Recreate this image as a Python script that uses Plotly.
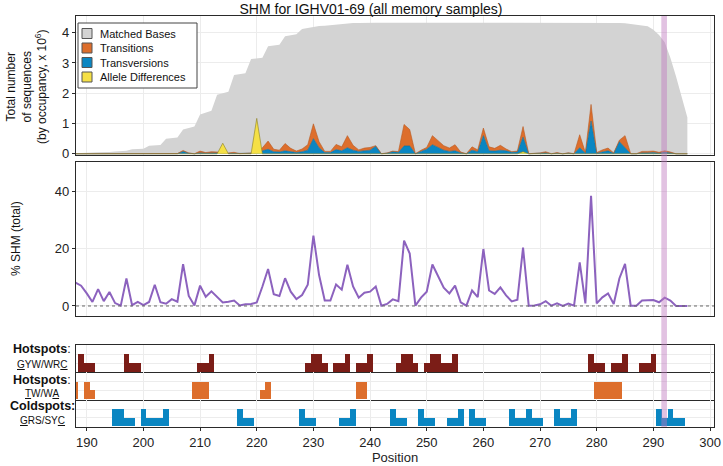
import plotly.graph_objects as go
from plotly.subplots import make_subplots

# ---------------- data ----------------
positions = list(range(188, 297))

matched_bases = [
    0.02, 0.02, 0.03, 0.04, 0.05, 0.05, 0.06, 0.08, 0.09, 0.10,   # 188-197
    0.15, 0.16, 0.17, 0.27, 0.28, 0.29, 0.50, 0.52, 0.54, 0.80,   # 198-207
    0.85, 0.90, 1.30, 1.36, 1.42, 1.95, 2.00, 2.05, 2.60, 2.63,   # 208-217
    2.66, 3.13, 3.15, 3.17, 3.55, 3.58, 3.60, 3.88, 3.92, 3.95,   # 218-227
    4.12, 4.15, 4.20, 4.22, 4.23, 4.25, 4.27, 4.29, 4.31, 4.32,   # 228-237
    4.32, 4.33, 4.33, 4.33, 4.33, 4.33, 4.34, 4.34, 4.34, 4.34,   # 238-247
    4.34, 4.34, 4.34, 4.34, 4.34, 4.34, 4.34, 4.34, 4.34, 4.34,   # 248-257
    4.34, 4.34, 4.34, 4.34, 4.34, 4.34, 4.34, 4.34, 4.34, 4.34,   # 258-267
    4.34, 4.34, 4.34, 4.33, 4.33, 4.33, 4.33, 4.33, 4.33, 4.33,   # 268-277
    4.33, 4.33, 4.33, 4.33, 4.33, 4.33, 4.32, 4.31, 4.29, 4.27,   # 278-287
    4.25, 4.21, 4.10, 3.92, 3.68, 3.17, 2.55, 1.90, 1.20          # 288-296
]

transversions = [
    0.0, 0.0, 0.0, 0.0, 0.002, 0.001, 0.002, 0.0, 0.0, 0.006,     # 188-197
    0.001, 0.001, 0.001, 0.002, 0.012, 0.002, 0.002, 0.006, 0.004, 0.08,  # 198-207
    0.02, 0.001, 0.03, 0.02, 0.03, 0.03, 0.01, 0.015, 0.02, 0.003,  # 208-217
    0.008, 0.01, 0.02, 0.10, 0.15, 0.07, 0.06, 0.10, 0.08, 0.04,  # 218-227
    0.07, 0.12, 0.50, 0.20, 0.04, 0.04, 0.14, 0.10, 0.20, 0.12,   # 228-237
    0.08, 0.10, 0.12, 0.25, 0.002, 0.02, 0.07, 0.05, 0.26, 0.26,  # 238-247
    0.002, 0.08, 0.15, 0.30, 0.20, 0.12, 0.08, 0.10, 0.03, 0.002, # 248-257
    0.12, 0.07, 0.60, 0.10, 0.09, 0.12, 0.10, 0.05, 0.06, 0.55,   # 258-267
    0.002, 0.005, 0.015, 0.03, 0.002, 0.02, 0.0, 0.02, 0.002, 0.20,  # 268-277
    0.02, 1.08, 0.02, 0.05, 0.10, 0.015, 0.40, 0.20, 0.002, 0.002,   # 278-287
    0.03, 0.03, 0.04, 0.02, 0.05, 0.03, 0.0, 0.0, 0.0              # 288-296
]

transitions = [
    0.0, 0.0, 0.0, 0.0, 0.001, 0.0, 0.001, 0.001, 0.0, 0.004,     # 188-197
    0.0, 0.001, 0.0, 0.002, 0.008, 0.002, 0.002, 0.006, 0.004, 0.03,  # 198-207
    0.01, 0.001, 0.06, 0.02, 0.04, 0.03, 0.01, 0.015, 0.03, 0.002,  # 208-217
    0.007, 0.01, 0.02, 0.10, 0.27, 0.08, 0.06, 0.24, 0.10, 0.05,  # 218-227
    0.09, 0.18, 0.49, 0.20, 0.04, 0.04, 0.17, 0.13, 0.40, 0.16,   # 228-237
    0.05, 0.09, 0.09, 0.02, 0.002, 0.01, 0.02, 0.02, 0.71, 0.54,  # 238-247
    0.002, 0.04, 0.06, 0.30, 0.25, 0.15, 0.11, 0.20, 0.03, 0.002, # 248-257
    0.11, 0.06, 0.25, 0.13, 0.09, 0.16, 0.06, 0.02, 0.03, 0.35,   # 258-267
    0.002, 0.005, 0.015, 0.04, 0.002, 0.02, 0.0, 0.015, 0.002, 0.43,  # 268-277
    0.02, 0.55, 0.02, 0.08, 0.09, 0.015, 0.05, 0.40, 0.002, 0.002,   # 278-287
    0.05, 0.05, 0.05, 0.03, 0.05, 0.03, 0.0, 0.0, 0.0              # 288-296
]

allele_differences = [
    0, 0, 0, 0, 0, 0, 0, 0, 0, 0,          # 188-197
    0, 0, 0, 0, 0, 0, 0, 0, 0, 0,          # 198-207
    0, 0, 0, 0, 0, 0, 0.35, 0, 0, 0,       # 208-217
    0, 0, 1.17, 0, 0, 0, 0, 0, 0, 0,       # 218-227
    0, 0, 0, 0, 0, 0, 0, 0, 0, 0,          # 228-237
    0, 0, 0, 0, 0, 0, 0, 0, 0, 0,          # 238-247
    0, 0, 0, 0, 0, 0, 0, 0, 0, 0,          # 248-257
    0, 0, 0, 0, 0, 0, 0, 0, 0, 0.07,       # 258-267
    0, 0, 0, 0, 0, 0, 0, 0, 0, 0,          # 268-277
    0, 0, 0, 0, 0, 0, 0, 0, 0, 0,          # 278-287
    0, 0, 0, 0, 0, 0, 0, 0, 0              # 288-296
]

shm_pct = [
    8.2, 7.1, 4.4, 1.4, 5.9, 1.7, 4.9, 1.0, 0.1, 9.6,      # 188-197
    0.3, 1.4, 0.3, 1.4, 7.4, 1.3, 0.8, 2.4, 1.5, 14.6,     # 198-207
    3.5, 0.2, 7.1, 3.2, 5.1, 3.2, 1.2, 1.5, 1.9, 0.2,      # 208-217
    0.6, 0.7, 1.2, 6.8, 12.9, 4.1, 3.5, 9.7, 5.0, 2.4,     # 218-227
    3.8, 7.4, 24.6, 10.8, 1.9, 1.9, 7.5, 5.7, 14.4, 6.8,   # 228-237
    2.9, 4.6, 5.0, 6.8, 0.1, 0.7, 2.3, 1.7, 22.8, 18.3,    # 238-247
    0.1, 2.9, 5.0, 14.5, 10.5, 6.4, 4.4, 7.1, 1.3, 0.1,    # 248-257
    5.4, 3.1, 19.9, 5.4, 4.2, 6.5, 3.7, 1.6, 2.2, 20.4,    # 258-267
    0.1, 0.2, 0.6, 1.7, 0.1, 0.9, 0.0, 0.8, 0.1, 15.2,     # 268-277
    0.9, 38.5, 0.9, 3.0, 4.4, 0.7, 9.6, 14.7, 0.1, 0.1,    # 278-287
    1.9, 1.9, 2.1, 1.3, 2.9, 1.9, 0.0, 0.0, 0.0            # 288-296
]

gyw_pos = [189, 190, 191, 197, 198, 199, 210, 211, 212, 229, 230, 231, 232,
           234, 235, 236, 238, 239, 240, 245, 246, 247, 248, 250, 251, 252,
           253, 254, 255, 279, 280, 281, 283, 284, 285, 288, 289, 290]
gyw_cnt = [2, 1, 1, 2, 1, 1, 1, 1, 2, 1, 2, 2, 1,
           1, 1, 2, 1, 1, 2, 1, 2, 2, 1, 1, 2, 2,
           1, 1, 2, 2, 1, 1, 1, 1, 2, 1, 1, 2]

tw_pos = [188, 190, 191, 209, 210, 211, 221, 222, 238, 239, 280, 281, 282, 283, 284]
tw_cnt = [2, 2, 1, 2, 2, 2, 1, 2, 2, 2, 2, 2, 2, 2, 2]

grs_pos = [195, 196, 197, 198, 200, 201, 202, 203, 204, 217, 218, 219, 228, 229,
           230, 235, 236, 237, 244, 245, 246, 249, 250, 251, 254, 255, 256, 258,
           259, 260, 265, 266, 267, 268, 269, 270, 273, 274, 275, 276, 291, 292,
           293, 294, 295]
grs_cnt = [2, 2, 1, 1, 2, 1, 1, 1, 2, 2, 1, 1, 2, 1,
           1, 1, 1, 2, 2, 1, 1, 2, 1, 1, 1, 1, 2, 2,
           1, 1, 2, 1, 1, 2, 1, 1, 2, 1, 1, 2, 2, 1,
           2, 1, 1]

legend_names = ["Matched Bases", "Transitions", "Transversions", "Allele Differences"]
x_ticks = [190, 200, 210, 220, 230, 240, 250, 260, 270, 280, 290, 300]
highlight_position = 291.9

# ---------------- styling ----------------
FONT = "Liberation Sans, Arial, sans-serif"
GRAY = "#D3D3D3"
ORANGE = "#DD6E2C"
BLUE = "#0A86C2"
YELLOW = "#F5E046"
DARKRED = "#7B1D17"
PURPLE = "#8C62BE"
BAND = "rgba(190,120,190,0.45)"
GRID = "#ECECEC"
AXIS = "#2a2a2a"
legend_colors = [GRAY, ORANGE, BLUE, YELLOW]

W, H = 723, 466
L, R, T, B = 76, 9, 16, 39
pw = W - L - R
ph = H - T - B


def px_x(px):
    return (px - L) / pw


def px_y(py):
    return 1 - (py - T) / ph


fig = make_subplots(rows=5, cols=1, shared_xaxes=True, vertical_spacing=0.01)
fig.update_layout(template="none")

# top panel areas
fig.add_trace(go.Scatter(x=positions, y=matched_bases, mode="lines", fill="tozeroy",
                         fillcolor=GRAY, line=dict(width=0, color=GRAY),
                         name=legend_names[0], hoverinfo="skip"), row=1, col=1)
fig.add_trace(go.Scatter(x=positions, y=transversions, mode="lines", stackgroup="mut",
                         fillcolor=BLUE, line=dict(width=0.6, color="#0a6f9f"),
                         name=legend_names[2], hoverinfo="skip"), row=1, col=1)
fig.add_trace(go.Scatter(x=positions, y=transitions, mode="lines", stackgroup="mut",
                         fillcolor=ORANGE, line=dict(width=0.6, color="#b85a22"),
                         name=legend_names[1], hoverinfo="skip"), row=1, col=1)
fig.add_trace(go.Scatter(x=positions, y=allele_differences, mode="lines", fill="tozeroy",
                         fillcolor=YELLOW, line=dict(width=0.6, color="#8a7d20"),
                         name=legend_names[3], hoverinfo="skip"), row=1, col=1)

# middle panel
fig.add_trace(go.Scatter(x=positions, y=shm_pct, mode="lines", name="% SHM",
                         line=dict(color=PURPLE, width=2), hoverinfo="skip"), row=2, col=1)

# motif panels
fig.add_trace(go.Bar(x=gyw_pos, y=gyw_cnt, width=1, marker=dict(color=DARKRED, line=dict(width=0)),
                     hoverinfo="skip"), row=3, col=1)
fig.add_trace(go.Bar(x=tw_pos, y=tw_cnt, width=1, marker=dict(color=ORANGE, line=dict(width=0)),
                     hoverinfo="skip"), row=4, col=1)
fig.add_trace(go.Bar(x=grs_pos, y=grs_cnt, width=1, marker=dict(color=BLUE, line=dict(width=0)),
                     hoverinfo="skip"), row=5, col=1)

LW = 1.4
xr = [188.1, 300.7]
for i in range(1, 6):
    fig.update_xaxes(row=i, col=1, range=xr, tickvals=x_ticks, showgrid=True,
                     gridcolor=GRID, gridwidth=1, zeroline=False, automargin=False,
                     showline=True, mirror=(i <= 3), linecolor=AXIS, linewidth=LW,
                     showticklabels=(i == 5), ticks="outside" if i == 5 else "",
                     ticklen=3, tickcolor=AXIS,
                     tickfont=dict(size=13, color="#222", family=FONT))
fig.update_xaxes(row=5, col=1, title=dict(text="Position", font=dict(size=13, color="#222", family=FONT),
                                          standoff=3))

fig.update_yaxes(row=1, col=1, domain=[0.661, 1.0], range=[-0.05, 4.55],
                 tickvals=[0, 1, 2, 3, 4], ticks="outside", ticklen=3, tickcolor=AXIS,
                 tickfont=dict(size=13, color="#222", family=FONT))
fig.update_yaxes(row=2, col=1, domain=[0.2708, 0.6455], range=[-3.4, 50.4],
                 tickvals=[0, 20, 40], ticks="outside", ticklen=3, tickcolor=AXIS,
                 tickfont=dict(size=13, color="#222", family=FONT))
doms = {3: [0.1331, 0.1995], 4: [0.0657, 0.1331], 5: [0.0, 0.0657]}
for r, d in doms.items():
    fig.update_yaxes(row=r, col=1, domain=d, range=[-0.08, 3.1], tickvals=[1, 2, 3],
                     showticklabels=False, ticks="")
for i in range(1, 6):
    fig.update_yaxes(row=i, col=1, showgrid=True, gridcolor=GRID, gridwidth=1, zeroline=False,
                     showline=True, mirror=True, linecolor=AXIS, linewidth=LW,
                     automargin=False)

# zero dotted line in SHM panel
fig.add_shape(type="line", xref="x2 domain", yref="y2", x0=0, x1=1, y0=0, y1=0,
              line=dict(color="#666", width=1, dash="dot"))
# highlighted position band
fig.add_shape(type="rect", xref="x", yref="paper", x0=highlight_position - 0.5,
              x1=highlight_position + 0.5, y0=0, y1=1, fillcolor=BAND,
              line=dict(width=0), layer="above")

# legend box (drawn inside the top panel)
ann = []
fig.add_shape(type="rect", xref="paper", yref="paper", x0=px_x(78), x1=px_x(197),
              y0=px_y(88), y1=px_y(23), fillcolor="white", line=dict(color="#444", width=1),
              layer="above")
leg_rows = [33.5, 48, 62.5, 77]
for name, col, py in zip(legend_names, legend_colors, leg_rows):
    fig.add_shape(type="rect", xref="paper", yref="paper", x0=px_x(82), x1=px_x(92),
                  y0=px_y(py + 5), y1=px_y(py - 5), fillcolor=col,
                  line=dict(color="#555", width=1), layer="above")
    ann.append(dict(text=name, xref="paper", yref="paper", x=px_x(98), y=px_y(py),
                    xanchor="left", yanchor="middle", showarrow=False,
                    font=dict(size=11, color="#111", family=FONT)))

ann.append(dict(text="Total number<br>of sequences<br>(by occupancy, x 10<sup>6</sup>)",
                xref="paper", yref="paper", x=px_x(26), y=px_y(86), textangle=-90,
                showarrow=False, xanchor="center", yanchor="middle",
                font=dict(size=12, color="#111", family=FONT)))
ann.append(dict(text="% SHM (total)", xref="paper", yref="paper", x=px_x(16), y=px_y(239),
                textangle=-90, showarrow=False, xanchor="center", yanchor="middle",
                font=dict(size=12, color="#111", family=FONT)))
labels = [("<b>Hotspots</b>:", 349, 12.5), ("<u>G</u>YW/WR<u>C</u>", 364, 10),
          ("<b>Hotspots</b>:", 379.5, 12.5), ("<u>T</u>W/W<u>A</u>", 393, 10),
          ("<b>Coldspots:</b>", 405.5, 12.5), ("<u>G</u>RS/SY<u>C</u>", 420, 10)]
for txt, py, sz in labels:
    ann.append(dict(text=txt, xref="paper", yref="paper", x=px_x(42), y=px_y(py),
                    showarrow=False, xanchor="center", yanchor="middle",
                    font=dict(size=sz, color="#111", family=FONT)))

fig.update_layout(
    width=W, height=H,
    margin=dict(l=L, r=R, t=T, b=B, autoexpand=False),
    paper_bgcolor="white", plot_bgcolor="white",
    font=dict(family=FONT, color="#222"),
    title=dict(text="SHM for IGHV01-69 (all memory samples)", x=371 / W, xanchor="center",
               y=1 - 9 / H, yanchor="middle", yref="container",
               font=dict(size=14, color="#111", family=FONT)),
    barmode="overlay", bargap=0,
    showlegend=False,
    annotations=ann,
)

fig.write_html("out.html", config={"displayModeBar": False},
               post_script="document.body.style.margin='0px';document.body.style.overflow='hidden';")
